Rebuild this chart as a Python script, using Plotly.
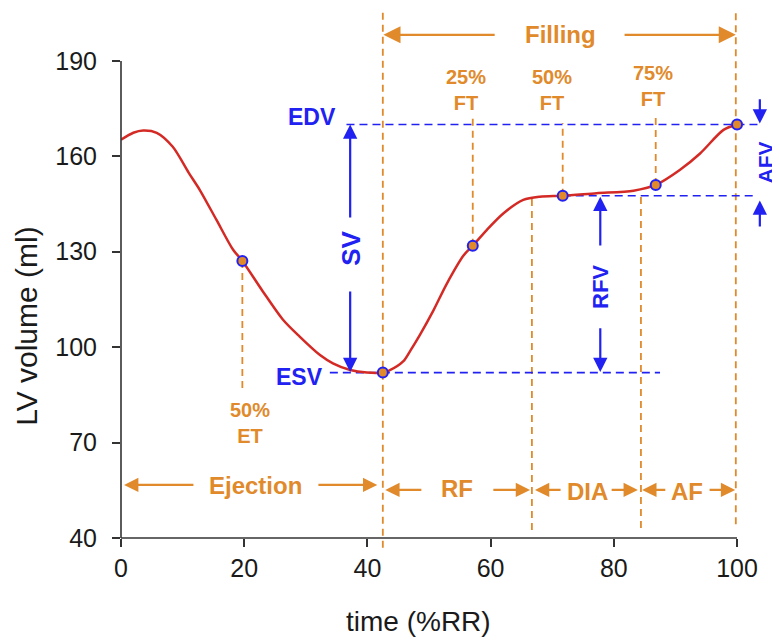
import plotly.graph_objects as go

# ---------------- data ----------------
time_pct = [0, 2, 3.6, 5.8, 8.4, 11, 12.8, 15.5, 18.2, 19.7, 23, 26.3, 29, 32.3, 34.4,
            37.2, 39.9, 42.5, 43.5, 45.8, 47, 48.5, 50.7, 52.9, 55.6, 57.1, 59.4, 62.1,
            65.3, 68, 71.7, 77.2, 83.2, 86.8, 90.7, 94, 97.8, 100]
lv_volume = [165.2, 167.4, 168.1, 167.4, 163, 154.8, 149.4, 140, 130.6, 127.1, 117.6,
             108.6, 103.3, 97.5, 94.9, 92.8, 92, 92, 92.6, 95.5, 99, 103.8, 111.5, 120,
             128.8, 131.9, 136.9, 142.1, 146.3, 147.3, 147.6, 148.4, 149.2, 151,
             155.7, 160.9, 168.3, 170]

# key points (50% ET, ESV, 25% FT, 50% FT, 75% FT, EDV)
key_time = [19.7, 42.5, 57.1, 71.7, 86.8, 100]
key_volume = [127.1, 92, 131.9, 147.6, 151, 170]

x_ticks = [0, 20, 40, 60, 80, 100]
y_ticks = [40, 70, 100, 130, 160, 190]

EDV, ESV, RFV_LEVEL = 170, 92, 147.6
T_ES, T_RF_END, T_DIA_END, T_ED = 42.5, 66.7, 84.4, 99.8

X_MIN, X_MAX = 0, 106
Y_MIN, Y_MAX = 40, 206

ORANGE = "#E08A2B"
BLUE = "#2121F2"
RED = "#D42A25"
AXIS = "#333333"
FONT = "Liberation Sans, Arial, sans-serif"


def py(v):
    return (v - Y_MIN) / (Y_MAX - Y_MIN)


fig = go.Figure()
fig.add_trace(go.Scatter(x=time_pct, y=lv_volume, mode="lines",
                         line=dict(color=RED, width=2.5, shape="spline", smoothing=0.8),
                         hoverinfo="skip", showlegend=False))

shapes = []
# axis lines
shapes.append(dict(type="line", xref="x", yref="paper", x0=0, x1=100, y0=0, y1=0,
                   line=dict(color=AXIS, width=1.6)))
shapes.append(dict(type="line", xref="paper", yref="y", x0=0, x1=0, y0=40, y1=190,
                   line=dict(color=AXIS, width=1.6)))

# orange dashed vertical guide lines (data coords)
odash = dict(color=ORANGE, width=1.8, dash="7px,5px")
for x, y0, y1 in [(key_time[0], key_volume[0], 86.5),
                  (key_time[2], key_volume[2], 172),
                  (key_time[3], key_volume[3], 170.5),
                  (key_time[4], key_volume[4], 173.6),
                  (T_RF_END, 146.6, 42.5),
                  (T_DIA_END, 147.2, 43),
                  (T_ED, 205, 43.4)]:
    shapes.append(dict(type="line", xref="x", yref="y", x0=x, x1=x, y0=y0, y1=y1,
                       line=odash, layer="below"))
# end-systole line crosses the x axis
shapes.append(dict(type="line", xref="x", yref="paper", x0=T_ES, x1=T_ES,
                   y0=py(36.9), y1=py(205.5), line=odash, layer="below"))

# blue dashed horizontal lines
bdash = dict(color=BLUE, width=1.6, dash="8px,5px")
shapes.append(dict(type="line", xref="x", yref="y", x0=36.6, x1=103.7, y0=EDV, y1=EDV,
                   line=bdash, layer="below"))
shapes.append(dict(type="line", xref="x", yref="y", x0=33.9, x1=87.5, y0=ESV, y1=ESV,
                   line=bdash, layer="below"))
shapes.append(dict(type="line", xref="x", yref="y", x0=key_time[3], x1=103.2,
                   y0=RFV_LEVEL, y1=RFV_LEVEL, line=bdash, layer="below"))

fig.add_trace(go.Scatter(x=key_time, y=key_volume, mode="markers",
                         marker=dict(size=10, color=ORANGE, line=dict(color=BLUE, width=2)),
                         hoverinfo="skip", showlegend=False))

ann = []


def arrow(x_head, y_head, x_tail, y_tail, color, size=1.3, width=2.2):
    ann.append(dict(x=x_head, y=y_head, ax=x_tail, ay=y_tail, xref="x", yref="y",
                    axref="x", ayref="y", text="", showarrow=True, arrowhead=2,
                    arrowsize=size, arrowwidth=width, arrowcolor=color))


def label(x, y, text, color, size, angle=0, bold=True):
    ann.append(dict(x=x, y=y, xref="x", yref="y", text=("<b>%s</b>" % text) if bold else text,
                    showarrow=False, textangle=angle, xanchor="center", yanchor="middle",
                    font=dict(family=FONT, size=size, color=color)))


# Filling
arrow(T_ES + 0.1, 198.2, 60.9, 198.2, ORANGE, size=1.55)
arrow(T_ED, 198.2, 81.5, 198.2, ORANGE, size=1.55)
label(71.3, 198.2, "Filling", ORANGE, 24)
# Ejection
arrow(0.5, 56.7, 12, 56.7, ORANGE)
arrow(41.6, 56.7, 31.8, 56.7, ORANGE)
label(21.8, 56.4, "Ejection", ORANGE, 24)
# RF
arrow(42.9, 55.1, 49, 55.1, ORANGE)
arrow(66.4, 55.1, 60.2, 55.1, ORANGE)
label(54.5, 55.5, "RF", ORANGE, 24)
# DIA
arrow(67.2, 55.1, 71.6, 55.1, ORANGE)
arrow(83.9, 55.1, 79.4, 55.1, ORANGE)
label(75.8, 54.5, "DIA", ORANGE, 24)
# AF
arrow(84.6, 55.1, 88.6, 55.1, ORANGE)
arrow(99.7, 55.1, 95.3, 55.1, ORANGE)
label(91.9, 54.5, "AF", ORANGE, 24)

# percentage labels
label(56.0, 180.9, "25%<br>FT", ORANGE, 20)
label(69.9, 180.9, "50%<br>FT", ORANGE, 20)
label(86.3, 182.0, "75%<br>FT", ORANGE, 20)
label(20.9, 76.3, "50%<br>ET", ORANGE, 20)

# blue annotations
label(31.0, 172.4, "EDV", BLUE, 23)
label(28.9, 90.6, "ESV", BLUE, 23)
arrow(37.2, EDV, 37.2, 140.3, BLUE)
arrow(37.2, ESV + 0.2, 37.2, 118, BLUE)
label(37.2, 131.0, "SV", BLUE, 26, angle=-90)
arrow(77.8, RFV_LEVEL - 0.3, 77.8, 131.5, BLUE)
arrow(77.8, ESV + 0.2, 77.8, 106.4, BLUE)
label(77.8, 119.0, "RFV", BLUE, 22, angle=-90)
arrow(103.7, EDV + 0.3, 103.7, 178.4, BLUE)
arrow(103.7, RFV_LEVEL - 1.5, 103.7, 137.5, BLUE)
label(104.6, 158.2, "AFV", BLUE, 21, angle=-90)

# axis titles
ann.append(dict(x=48.3, y=-0.158, xref="x", yref="paper", text="time (%RR)",
                showarrow=False, xanchor="center", yanchor="middle",
                font=dict(family=FONT, size=28, color="#1a1a1a")))
ann.append(dict(x=-0.144, y=106.7, xref="paper", yref="y", text="LV volume (ml)",
                showarrow=False, textangle=-90, xanchor="center", yanchor="middle",
                font=dict(family=FONT, size=30, color="#1a1a1a")))

# page body has an 8px margin: figure is drawn 8px in from the top-left corner
fig.update_layout(
    width=772, height=636,
    margin=dict(l=113, r=6, t=2, b=106),
    paper_bgcolor="white", plot_bgcolor="white",
    shapes=shapes, annotations=ann,
    font=dict(family=FONT, color="#1a1a1a"),
    xaxis=dict(range=[X_MIN, X_MAX], tickvals=x_ticks, ticktext=[str(v) for v in x_ticks],
               ticks="outside", ticklen=8, tickwidth=1.6, tickcolor=AXIS,
               showline=False, showgrid=False, zeroline=False,
               tickfont=dict(family=FONT, size=25, color="#1a1a1a")),
    yaxis=dict(range=[Y_MIN, Y_MAX], tickvals=y_ticks, ticktext=[str(v) for v in y_ticks],
               ticks="outside", ticklen=8, tickwidth=1.6, tickcolor=AXIS,
               showline=False, showgrid=False, zeroline=False, ticklabelstandoff=10,
               tickfont=dict(family=FONT, size=25, color="#1a1a1a")),
)

fig.write_html("out.html")
